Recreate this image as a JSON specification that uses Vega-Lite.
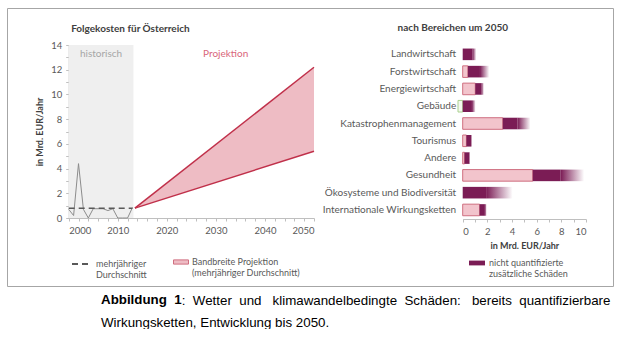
{
  "$schema": "https://vega.github.io/schema/vega-lite/v6.json",
  "padding": {"left": 6, "top": 7, "right": 5, "bottom": 0},
  "background": "white",
  "config": {
    "view": {"stroke": "#A6A6A6", "strokeWidth": 1},
    "font": "Lato",
    "axis": {"grid": false, "labelFont": "Lato", "labelColor": "#595959", "labelFontSize": 9.5, "labelOverlap": false, "domainColor": "#BFBFBF", "tickColor": "#BFBFBF", "tickSize": 3, "titleFont": "Lato", "titleFontSize": 9, "titleFontWeight": "bold", "titleColor": "#404040"},
    "legend": {"labelFont": "Lato", "labelFontSize": 9, "labelColor": "#595959", "padding": 0, "labelLimit": 300},
    "title": {"font": "Liberation Sans", "fontSize": 13.33, "color": "#000000", "orient": "bottom", "anchor": "start", "frame": "group"}
  },
  "title": {
    "text": "Wirkungsketten, Entwicklung bis 2050.",
    "fontWeight": "normal",
    "dx": 94,
    "offset": 8.7
  },
  "datasets": {
    "hist": [
      {"year": 2000, "value": 0.7},
      {"year": 2001, "value": 0.2},
      {"year": 2002, "value": 4.4},
      {"year": 2003, "value": 0.7},
      {"year": 2004, "value": 0.0},
      {"year": 2005, "value": 0.75},
      {"year": 2006, "value": 0.75},
      {"year": 2007, "value": 0.75},
      {"year": 2008, "value": 0.6},
      {"year": 2009, "value": 0.75},
      {"year": 2010, "value": 0.0},
      {"year": 2011, "value": 0.0},
      {"year": 2012, "value": 0.0},
      {"year": 2013, "value": 0.85}
    ],
    "avg": [
      {"year": 2000, "value": 0.78},
      {"year": 2013, "value": 0.78}
    ],
    "proj": [
      {"year": 2013.5, "lo": 0.8, "hi": 0.8},
      {"year": 2050, "lo": 5.4, "hi": 12.2}
    ],
    "bars": [
      {"cat": "Landwirtschaft", "q": 0, "ds": 0, "d": 0.8, "f": 1.1},
      {"cat": "Forstwirtschaft", "q": 0.42, "ds": 0.42, "d": 1.4, "f": 2.15},
      {"cat": "Energiewirtschaft", "q": 1.02, "ds": 1.02, "d": 1.52, "f": 1.72},
      {"cat": "Gebäude", "q": -0.38, "ds": 0, "d": 0.75, "f": 1.05},
      {"cat": "Katastrophenmanagement", "q": 3.25, "ds": 3.25, "d": 4.45, "f": 5.5},
      {"cat": "Tourismus", "q": 0.3, "ds": 0.3, "d": 0.68, "f": 0.75},
      {"cat": "Andere", "q": 0.15, "ds": 0.15, "d": 0.54, "f": 0.58},
      {"cat": "Gesundheit", "q": 5.68, "ds": 5.68, "d": 7.95, "f": 9.85},
      {"cat": "Ökosysteme und Biodiversität", "q": 0, "ds": 0, "d": 1.9, "f": 4.05},
      {"cat": "Internationale Wirkungsketten", "q": 1.37, "ds": 1.37, "d": 1.8, "f": 1.95}
    ]
  },
  "vconcat": [
    {
      "title": {
        "text": ": \u00a0Wetter \u00a0und \u00a0\u00a0klimawandelbedingte \u00a0Schäden: \u00a0\u00a0bereits \u00a0quantifizierbare",
        "fontWeight": "normal",
        "dx": 174.7,
        "offset": -13.33
      },
      "vconcat": [
        {
          "width": 606,
          "height": 278,
          "title": {
            "text": "Abbildung \u00a01",
            "fontWeight": "bold",
            "dx": 94,
            "offset": 7
          },
          "layer": [
            {
              "layer": [
                {
                  "data": {"values": [{"period": "historisch", "from": 2000, "to": 2013.2}]},
                  "mark": {"type": "rect", "color": "#EFEFEF"},
                  "encoding": {
                    "x": {"field": "from", "type": "quantitative",
                          "scale": {"domain": [2000, 2050], "range": [61.7, 307], "nice": false, "zero": false},
                          "axis": {"orient": "bottom", "offset": -68, "tickCount": 100, "values": [2000, 2002, 2004, 2006, 2008, 2010, 2012, 2014, 2016, 2018, 2020, 2022, 2024, 2026, 2028, 2030, 2032, 2034, 2036, 2038, 2040, 2042, 2044, 2046, 2048, 2050], "format": "d", "labelExpr": "datum.value % 10 === 0 ? datum.label : ''", "title": null, "labelPadding": 4}},
                    "x2": {"field": "to"},
                    "y": {"datum": 0, "type": "quantitative",
                          "scale": {"domain": [0, 14], "range": [210, 37], "nice": false, "zero": true},
                          "axis": {"orient": "left", "offset": -61.7, "tickCount": 100, "values": [0, 1, 2, 3, 4, 5, 6, 7, 8, 9, 10, 11, 12, 13, 14], "format": "d", "labelExpr": "datum.value % 2 === 0 ? datum.label : ''", "title": "in Mrd. EUR/Jahr", "titlePadding": 6, "labelPadding": 4}},
                    "y2": {"datum": 14}
                  }
                },
                {
                  "data": {"values": [{"label": "historisch"}]},
                  "mark": {"type": "text", "color": "#A6A6A6", "fontSize": 10},
                  "encoding": {
                    "x": {"datum": 2006.6, "type": "quantitative"},
                    "y": {"datum": 13.25, "type": "quantitative"},
                    "text": {"field": "label"}
                  }
                },
                {
                  "data": {"values": [{"label": "Projektion"}]},
                  "mark": {"type": "text", "color": "#D9667A", "fontSize": 10},
                  "encoding": {
                    "x": {"datum": 2032, "type": "quantitative"},
                    "y": {"datum": 13.25, "type": "quantitative"},
                    "text": {"field": "label"}
                  }
                },
                {
                  "data": {"values": [{"label": "Folgekosten für Österreich"}]},
                  "mark": {"type": "text", "color": "#404040", "fontSize": 10, "fontWeight": "bold", "align": "left"},
                  "encoding": {
                    "x": {"datum": 2000.5, "type": "quantitative"},
                    "y": {"datum": 15.3, "type": "quantitative"},
                    "text": {"field": "label"}
                  }
                },
                {
                  "data": {"name": "proj"},
                  "mark": {"type": "area"},
                  "encoding": {
                    "x": {"field": "year", "type": "quantitative"},
                    "y": {"field": "lo", "type": "quantitative"},
                    "y2": {"field": "hi"},
                    "fill": {"datum": "Bandbreite Projektion", "type": "nominal", "scale": {"range": ["#EEBCC4"]},
                             "legend": {"orient": "none", "legendX": 166, "legendY": 246, "title": null,
                                        "symbolType": "M-1,-0.28H1V0.28H-1Z", "symbolSize": 225,
                                        "symbolStrokeColor": "#CF6F80", "symbolStrokeWidth": 1, "labelOffset": 3,
                                        "labelExpr": "['Bandbreite Projektion', '(mehrjähriger Durchschnitt)']"}}
                  }
                },
                {
                  "data": {"name": "proj"},
                  "mark": {"type": "line", "color": "#C0304A", "strokeWidth": 1.5},
                  "encoding": {
                    "x": {"field": "year", "type": "quantitative"},
                    "y": {"field": "hi", "type": "quantitative"}
                  }
                },
                {
                  "data": {"name": "proj"},
                  "mark": {"type": "line", "color": "#C0304A", "strokeWidth": 1.5},
                  "encoding": {
                    "x": {"field": "year", "type": "quantitative"},
                    "y": {"field": "lo", "type": "quantitative"}
                  }
                },
                {
                  "data": {"name": "hist"},
                  "mark": {"type": "line", "color": "#8C8C8C", "strokeWidth": 1},
                  "encoding": {
                    "x": {"field": "year", "type": "quantitative"},
                    "y": {"field": "value", "type": "quantitative"}
                  }
                },
                {
                  "data": {"name": "avg"},
                  "mark": {"type": "line", "color": "#595959", "strokeWidth": 1.5},
                  "encoding": {
                    "x": {"field": "year", "type": "quantitative"},
                    "y": {"field": "value", "type": "quantitative"},
                    "strokeDash": {"datum": "mehrjähriger Durchschnitt", "type": "nominal", "scale": {"range": [[6, 4]]},
                                   "legend": {"orient": "none", "legendX": 64, "legendY": 246, "title": null,
                                              "symbolType": "stroke", "symbolSize": 324, "symbolStrokeWidth": 2,
                                              "symbolStrokeColor": "#595959", "labelOffset": 5,
                                              "labelExpr": "['mehrjähriger', 'Durchschnitt']"}}
                  }
                }
              ]
            },
            {
              "data": {"name": "bars"},
              "layer": [
                {
                  "transform": [{"filter": "datum.q != 0"}],
                  "mark": {"type": "bar", "strokeWidth": 1},
                  "encoding": {
                    "x": {"field": "q", "type": "quantitative", "stack": null,
                          "scale": {"domain": [0, 10], "range": [455.7, 579], "nice": false, "zero": true},
                          "axis": {"orient": "bottom", "offset": -67, "tickCount": 100, "values": [0, 0.5, 1, 1.5, 2, 2.5, 3, 3.5, 4, 4.5, 5, 5.5, 6, 6.5, 7, 7.5, 8, 8.5, 9, 9.5, 10], "format": "d", "labelExpr": "datum.value % 2 === 0 ? datum.label : ''", "title": "in Mrd. EUR/Jahr", "titlePadding": 6, "labelPadding": 4}},
                    "y": {"field": "cat", "type": "nominal",
                          "scale": {"domain": ["Landwirtschaft", "Forstwirtschaft", "Energiewirtschaft", "Gebäude", "Katastrophenmanagement", "Tourismus", "Andere", "Gesundheit", "Ökosysteme und Biodiversität", "Internationale Wirkungsketten"],
                                    "range": [37.7, 210.6], "paddingInner": 0.33, "paddingOuter": 0.165},
                          "axis": {"orient": "left", "offset": -455.7, "title": null, "domain": false, "ticks": false, "tickSize": 0, "labelPadding": 7, "labelFontSize": 10, "labelLimit": 300}},
                    "fill": {"condition": {"test": "datum.q < 0", "value": "#F3F8EE"}, "value": "#F2C4CC"},
                    "stroke": {"condition": {"test": "datum.q < 0", "value": "#A9D08E"}, "value": "#CF6F80"}
                  }
                },
                {
                  "mark": {"type": "bar"},
                  "encoding": {
                    "x": {"field": "ds", "type": "quantitative"},
                    "x2": {"field": "d"},
                    "y": {"field": "cat", "type": "nominal"},
                    "fill": {"datum": "nicht quantifizierte zusätzliche Schäden", "type": "nominal", "scale": {"range": ["#7B1C55"]},
                             "legend": {"orient": "none", "legendX": 461, "legendY": 246, "title": null,
                                        "symbolType": "M-1,-0.3H1V0.3H-1Z", "symbolSize": 256, "labelOffset": 3,
                                        "labelExpr": "['nicht quantifizierte', 'zusätzliche Schäden']",
                                        "encode": {"symbols": {"update": {"fill": {"value": {"gradient": "linear", "x1": 0, "y1": 0, "x2": 1, "y2": 0, "stops": [{"offset": 0, "color": "#7B1C55"}, {"offset": 0.5, "color": "#7B1C55"}, {"offset": 1, "color": "#F4E6EE"}]}}, "stroke": {"value": null}}}}}}
                  }
                },
                {
                  "mark": {"type": "bar", "fill": {"gradient": "linear", "x1": 0, "y1": 0, "x2": 1, "y2": 0, "stops": [{"offset": 0, "color": "#7B1C55"}, {"offset": 1, "color": "#FFFFFF"}]}},
                  "encoding": {
                    "x": {"field": "d", "type": "quantitative"},
                    "x2": {"field": "f"},
                    "y": {"field": "cat", "type": "nominal"}
                  }
                },
                {
                  "data": {"values": [{"label": "nach Bereichen um 2050"}]},
                  "mark": {"type": "text", "color": "#404040", "fontSize": 10, "fontWeight": "bold", "dy": -26},
                  "encoding": {
                    "x": {"datum": -0.8, "type": "quantitative"},
                    "y": {"datum": "Landwirtschaft", "type": "nominal"},
                    "text": {"field": "label"}
                  }
                }
              ]
            }
          ],
          "resolve": {
            "scale": {"x": "independent", "y": "independent", "fill": "independent", "strokeDash": "independent"},
            "axis": {"x": "independent", "y": "independent"},
            "legend": {"fill": "independent"}
          }
        }
      ]
    }
  ]
}
